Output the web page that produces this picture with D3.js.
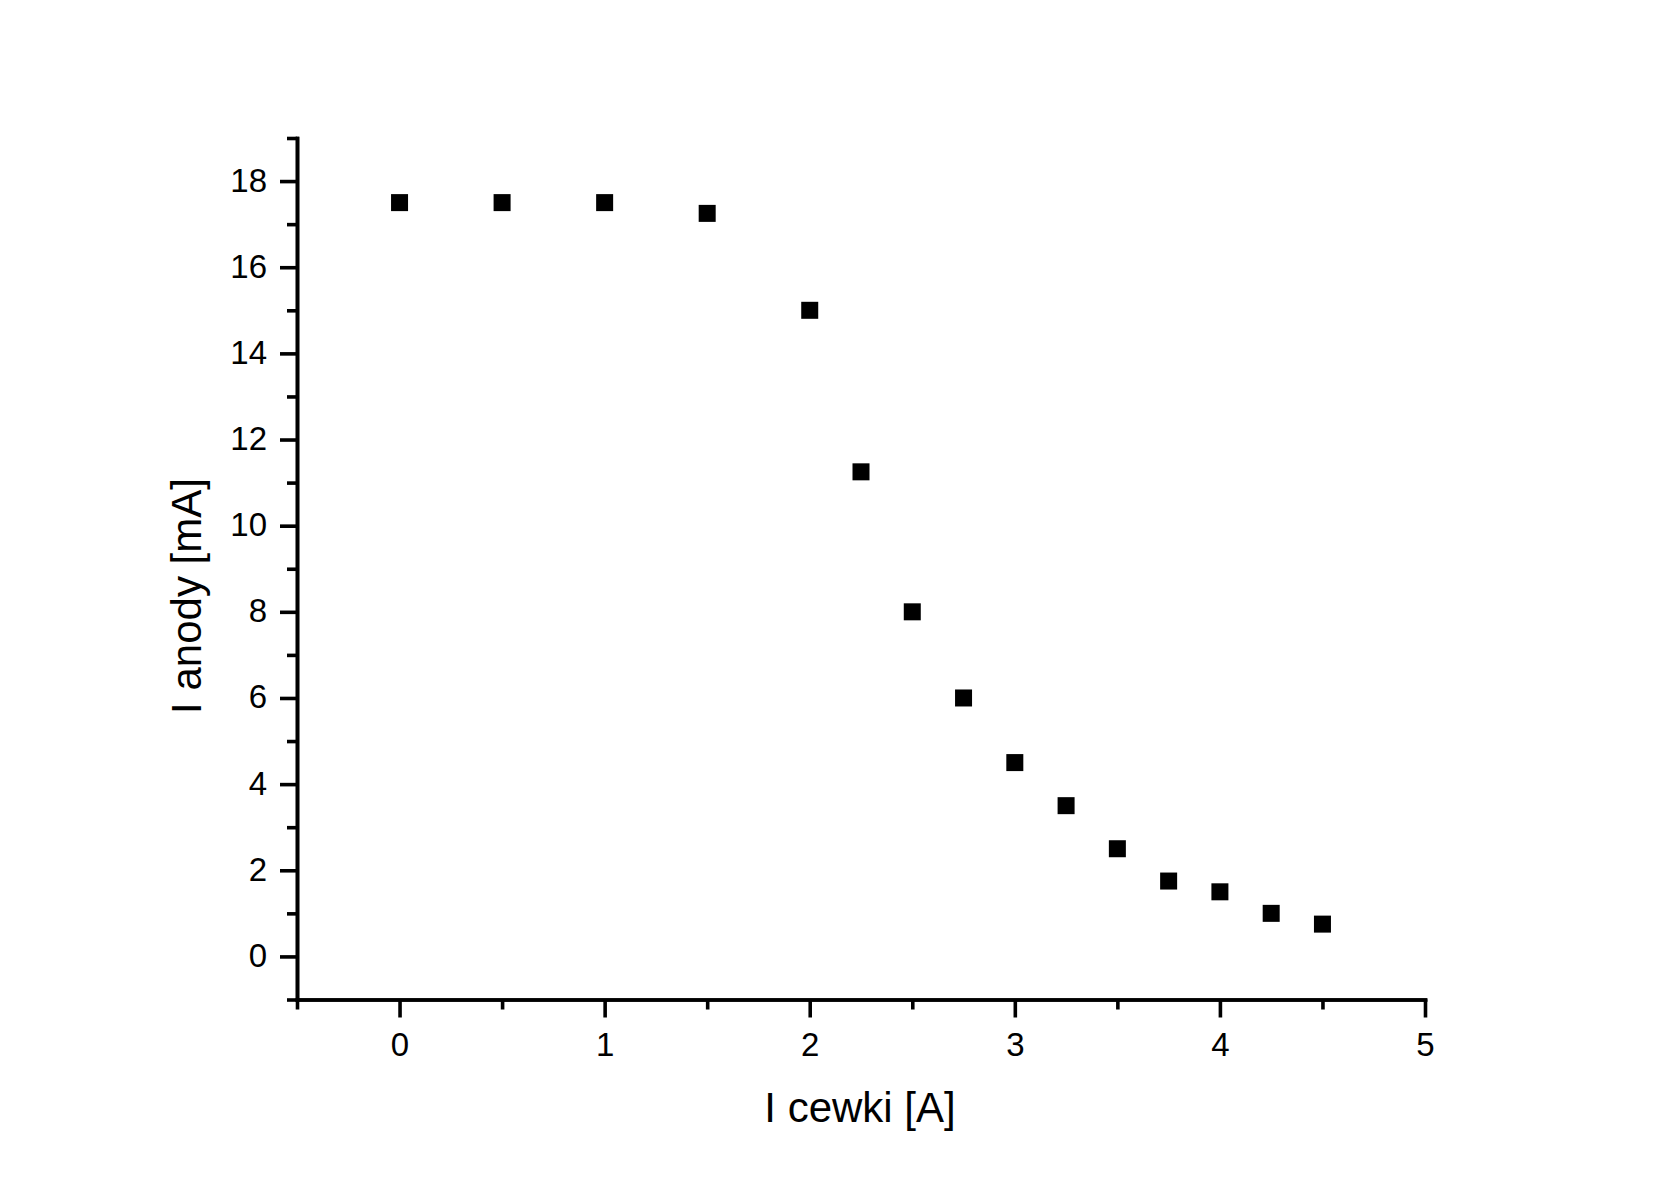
<!DOCTYPE html>
<html>
<head>
<meta charset="utf-8">
<script src="https://cdn.jsdelivr.net/npm/d3@7"></script>
<style>
  html, body { margin: 0; padding: 0; background: #fff; }
  svg { display: block; font-family: "Liberation Sans", Arial, sans-serif; }
</style>
</head>
<body>
<svg id="chart" width="1655" height="1199"></svg>
<script>
// Data
const xValues = [0, 0.5, 1, 1.5, 2, 2.25, 2.5, 2.75, 3, 3.25, 3.5, 3.75, 4, 4.25, 4.5];
const yValues = [17.5, 17.5, 17.5, 17.25, 15, 11.25, 8, 6, 4.5, 3.5, 2.5, 1.75, 1.5, 1, 0.75];
const xMajorTicks = [0, 1, 2, 3, 4, 5];
const xMinorTicks = [-0.5, 0.5, 1.5, 2.5, 3.5, 4.5];
const yMajorTicks = [0, 2, 4, 6, 8, 10, 12, 14, 16, 18];
const yMinorTicks = [-1, 1, 3, 5, 7, 9, 11, 13, 15, 17, 19];
const xTitle = "I cewki [A]";
const yTitle = "I anody [mA]";

(function () {
const svg = d3.select("#chart");
const mLeft = 297, mRight = 1425, mTop = 138, mBottom = 999.5;

const x = d3.scaleLinear().domain([-0.5, 5]).range([mLeft, mRight]);
const y = d3.scaleLinear().domain([-1, 19]).range([mBottom, mTop]);

const axisW = 3.6;

function styleAxis(g) {
  g.selectAll("path.domain").attr("stroke", "#000").attr("stroke-width", axisW).attr("stroke-linecap", "square");
  g.selectAll(".tick line").attr("stroke", "#000").attr("stroke-width", axisW);
  g.selectAll(".tick text").attr("fill", "#000").style("font-size", "33px")
    .style("font-family", "'Liberation Sans', Arial, sans-serif");
}

// X axis minor
svg.append("g").attr("transform", `translate(0,${mBottom})`)
  .call(d3.axisBottom(x).tickValues(xMinorTicks).tickSize(10).tickSizeOuter(0).tickFormat(""))
  .call(styleAxis);
// X axis major
const gx = svg.append("g").attr("transform", `translate(0,${mBottom})`)
  .call(d3.axisBottom(x).tickValues(xMajorTicks).tickSize(18).tickSizeOuter(0).tickPadding(14).tickFormat(d3.format("d")))
  .call(styleAxis);
gx.selectAll(".tick text").attr("dy", null).attr("y", 56);

// Y axis minor
svg.append("g").attr("transform", `translate(${mLeft},0)`)
  .call(d3.axisLeft(y).tickValues(yMinorTicks).tickSize(10).tickSizeOuter(0).tickFormat(""))
  .call(styleAxis);
// Y axis major
const gy = svg.append("g").attr("transform", `translate(${mLeft},0)`)
  .call(d3.axisLeft(y).tickValues(yMajorTicks).tickSize(17).tickSizeOuter(0).tickPadding(13).tickFormat(d3.format("d")))
  .call(styleAxis);
gy.selectAll(".tick text").attr("dy", null).attr("y", 10).attr("x", -30);

// Points
const sz = 17;
svg.append("g").selectAll("rect")
  .data(xValues.map((v, i) => ({ x: v, y: yValues[i] })))
  .join("rect")
  .attr("x", d => x(d.x) - sz / 2)
  .attr("y", d => y(d.y) - sz / 2)
  .attr("width", sz)
  .attr("height", sz)
  .attr("fill", "#000");

// Titles
svg.append("text")
  .attr("x", 860).attr("y", 1122)
  .attr("text-anchor", "middle")
  .style("font-size", "42px")
  .attr("fill", "#000")
  .text(xTitle);

svg.append("text")
  .attr("transform", `translate(201,596) rotate(-90)`)
  .attr("text-anchor", "middle")
  .style("font-size", "42px")
  .attr("fill", "#000")
  .text(yTitle);
})();
</script>
</body>
</html>
